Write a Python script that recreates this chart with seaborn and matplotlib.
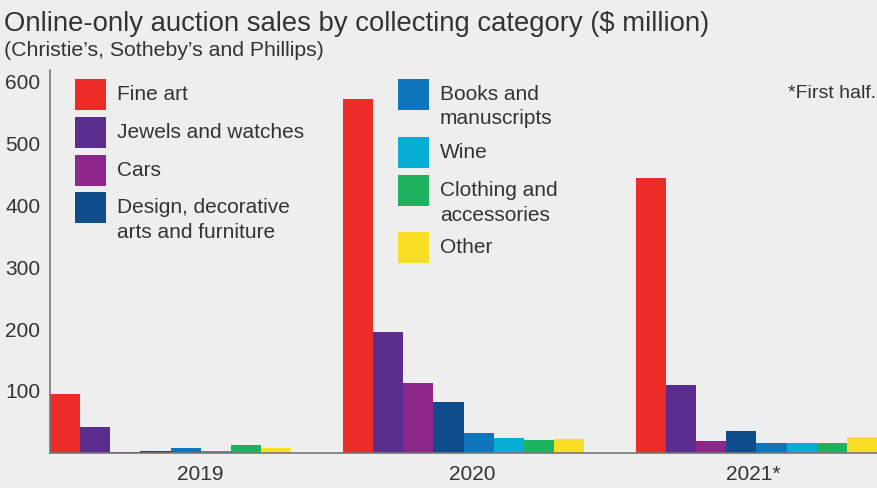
import matplotlib
matplotlib.use("Agg")
import matplotlib.pyplot as plt
from matplotlib.patches import Rectangle
import pandas as pd
import seaborn as sns

# Online-only auction sales, $ million
years = ["2019", "2020", "2021*"]
categories = [
    "Fine art",
    "Jewels and watches",
    "Cars",
    "Design, decorative\narts and furniture",
    "Books and\nmanuscripts",
    "Wine",
    "Clothing and\naccessories",
    "Other",
]
fine_art = [95, 572, 445]
jewels_watches = [42, 195, 110]
cars = [1, 113, 19]
design = [3, 82, 35]
books = [8, 32, 15]
wine = [3, 24, 16]
clothing = [13, 21, 15]
other = [8, 22, 25]

colors = ["#EE2C27", "#5B2D8E", "#8E278C", "#0E4C8C",
          "#0F75BC", "#06AED4", "#1FB25E", "#F9DE26"]

series = [fine_art, jewels_watches, cars, design, books, wine, clothing, other]
df = pd.DataFrame(
    [(y, c, v[i]) for c, v in zip(categories, series) for i, y in enumerate(years)],
    columns=["year", "category", "value"],
)

BG = "#EEEEEE"
TXT = "#333333"
sns.set_theme(style="white")
plt.rcParams["font.family"] = ["Liberation Sans", "DejaVu Sans"]

W, H = 877, 488
fig = plt.figure(figsize=(W / 100, H / 100), dpi=100, facecolor=BG)


def fx(px):
    return px / W


def fy(py):
    return 1 - py / H


ax_left, ax_right, ax_top, ax_bottom = 50, 877, 70, 452.7
ax = fig.add_axes([fx(ax_left), fy(ax_bottom), fx(ax_right - ax_left), (ax_bottom - ax_top) / H])
ax.set_facecolor(BG)

sns.barplot(
    data=df, x="year", y="value", hue="category", order=years, hue_order=categories,
    palette=colors, width=0.824, saturation=1, linewidth=0, legend=False, ax=ax,
)

ax.set_xlim(-0.412, 2.412)
ax.set_ylim(0, 619)
ax.set_xlabel("")
ax.set_ylabel("")

ax.set_yticks([100, 200, 300, 400, 500, 600])
ax.set_yticklabels(["100", "200", "300", "400", "500", "600"])
ax.set_xticks([0.1, 1.03, 1.99])
ax.set_xticklabels(years)
ax.tick_params(axis="y", length=0, pad=7, labelsize=15, labelcolor=TXT)
ax.tick_params(axis="x", length=0, pad=9, labelsize=15, labelcolor=TXT)

for s in ["top", "right"]:
    ax.spines[s].set_visible(False)
for s in ["left", "bottom"]:
    ax.spines[s].set_color("#777777")
    ax.spines[s].set_linewidth(1.2)

# Title and subtitle
fig.text(fx(4), fy(24), "Online-only auction sales by collecting category ($ million)",
         fontsize=19.8, color=TXT, va="center", ha="left")
fig.text(fx(4), fy(50), "(Christie\u2019s, Sotheby\u2019s and Phillips)",
         fontsize=15.3, color=TXT, va="center", ha="left")
fig.text(fx(876), fy(94), "*First half.", fontsize=14, color=TXT, va="center", ha="right")

# Legend, two columns
legend_slots = [
    (75, 94.5), (75, 132.5), (75, 170.5), (75, 207.5),
    (398, 94.5), (398, 152.5), (398, 190.5), (398, 247.5),
]
sq = 31
for (x0, yc), label, col in zip(legend_slots, categories, colors):
    fig.patches.append(Rectangle((fx(x0), fy(yc + sq / 2)), fx(sq), sq / H,
                                 transform=fig.transFigure, facecolor=col, edgecolor="none"))
    for i, line in enumerate(label.split("\n")):
        fig.text(fx(x0 + 42), fy(yc + i * 24.5), line, fontsize=15, color=TXT,
                 va="center", ha="left")

fig.savefig("out.png", dpi=100, facecolor=BG)
